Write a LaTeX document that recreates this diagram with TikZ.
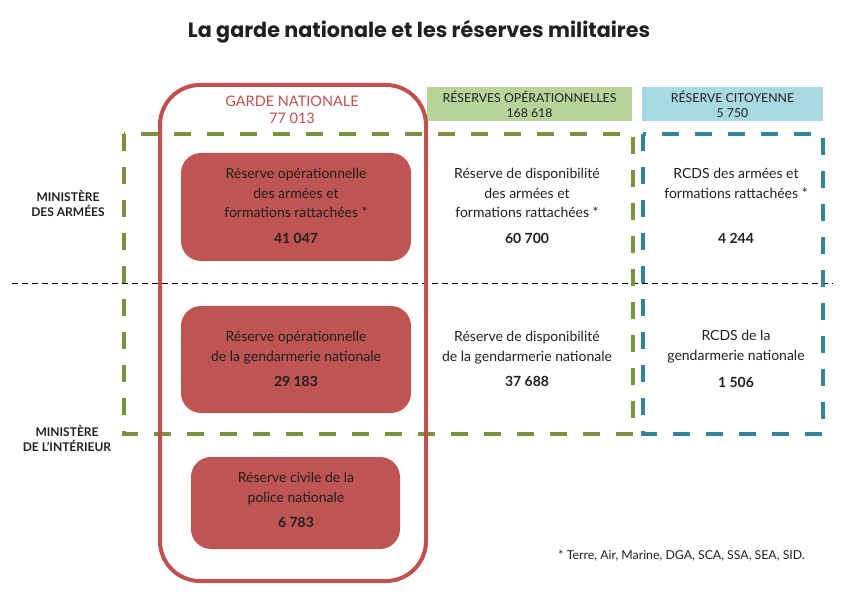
\documentclass[tikz,border=0pt]{standalone}
\usepackage{fontspec}
\setmainfont{Lato}
\newfontfamily\titlefont{Poppins}
\usetikzlibrary{positioning}

\definecolor{gardered}{HTML}{C0504D}
\definecolor{boxred}{HTML}{BE5552}
\definecolor{opgreen}{HTML}{77933C}
\definecolor{opgreenfill}{HTML}{B7D59B}
\definecolor{citblue}{HTML}{31849B}
\definecolor{citbluefill}{HTML}{A9D9E3}
\definecolor{textgray}{HTML}{231F20}

\tikzset{
  bodytext/.style={align=center, text=textgray, inner sep=0pt,
    font=\fontsize{14}{19.5}\selectfont},
  headtext/.style={align=center, text=textgray, inner sep=0pt,
    font=\fontsize{12.3}{15}\selectfont},
  redbox/.style={fill=boxred, rounded corners=20pt},
  greendash/.style={draw=opgreen, line width=4pt, dash pattern=on 17pt off 16pt},
  bluedash/.style={draw=citblue, line width=4pt, dash pattern=on 17pt off 16pt},
  ministry/.style={headtext, font=\bfseries\fontsize{12}{15}\selectfont},
}

\begin{document}
\begin{tikzpicture}[x=1pt, y=-1pt]
    \useasboundingbox (0,0) rectangle (846,601);

    % the title
    \node[text=textgray, font=\titlefont\bfseries\fontsize{20.7}{24}\selectfont]
        (title) at (419,32) {La garde nationale et les réserves militaires};

    % the dashed line between the two ministries
    \draw[black, line width=1pt, dash pattern=on 6pt off 4pt] (12,284) -- (833,284);

    % the dashed frame of the operational reserves
    \draw[greendash] (124,134) rectangle (633,434);
    % the dashed frame of the citizen reserve
    \draw[bluedash] (643,134) rectangle (823,434);

    % the header boxes above the frames
    \fill[opgreenfill] (427,87) rectangle (632,121);
    \fill[citbluefill] (642,87) rectangle (823,121);
    \node[headtext] (opres) at (529.5,104)
        {RÉSERVES OPÉRATIONNELLES\\168 618};
    \node[headtext] (citres) at (732.5,104)
        {RÉSERVE CITOYENNE\\5 750};

    % the rounded frame of the garde nationale
    \draw[gardered, line width=4pt, rounded corners=40pt] (160,85) rectangle (426,581);
    \node[headtext, text=gardered, font=\fontsize{14.5}{17}\selectfont] (garde) at (292,110)
        {GARDE NATIONALE\\77 013};

    % the three red boxes in the garde nationale
    \fill[redbox] (181,153) rectangle (411,261);
    \fill[redbox] (181,306) rectangle (411,413);
    \fill[redbox] (191,457) rectangle (400,549);

    \node[bodytext] (opArmees) at (296,206)
        {Réserve opérationnelle\\des armées et\\formations rattachées *\\[6pt]\textbf{41 047}};
    \node[bodytext] (opGend) at (296,359)
        {Réserve opérationnelle\\de la gendarmerie nationale\\[6pt]\textbf{29 183}};
    \node[bodytext] (policeCiv) at (296,500)
        {Réserve civile de la\\police nationale\\[6pt]\textbf{6 783}};

    % the availability reserves
    \node[bodytext] (dispoArmees) at (527,206)
        {Réserve de disponibilité\\des armées et\\formations rattachées *\\[6pt]\textbf{60 700}};
    \node[bodytext] (dispoGend) at (527,359)
        {Réserve de disponibilité\\de la gendarmerie nationale\\[6pt]\textbf{37 688}};

    % the citizen reserve
    \node[bodytext] (rcdsArmees) at (736,206)
        {RCDS des armées et\\formations rattachées *\\[26pt]\textbf{4 244}};
    \node[bodytext] (rcdsGend) at (736,359)
        {RCDS de la\\gendarmerie nationale\\[8pt]\textbf{1 506}};

    % the labels of the ministries
    \node[ministry] (minArmees) at (68,203) {MINISTÈRE\\DES ARMÉES};
    \node[ministry] (minInterieur) at (67,438) {MINISTÈRE\\DE L’INTÉRIEUR};

    % the footnote
    \node[bodytext, anchor=east, font=\fontsize{12.3}{14}\selectfont] (footnote) at (805,556)
        {* Terre, Air, Marine, DGA, SCA, SSA, SEA, SID.};
\end{tikzpicture}
\end{document}
